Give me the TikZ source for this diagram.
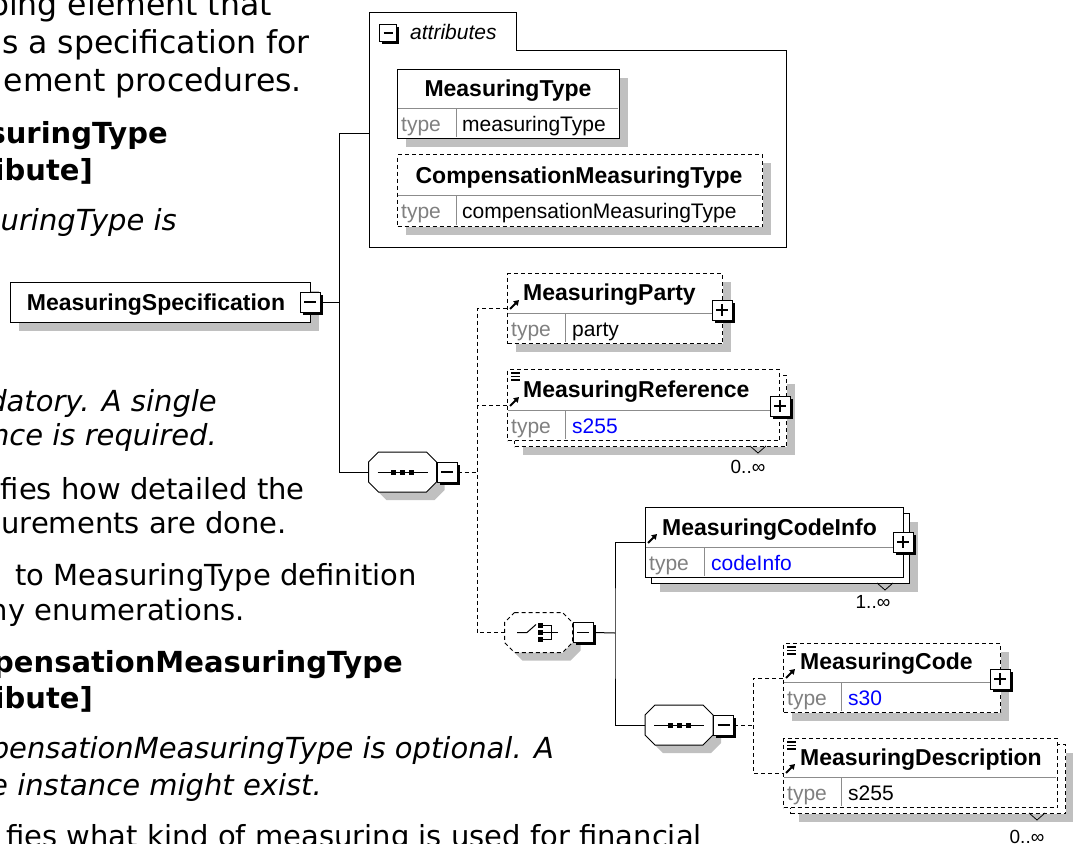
\documentclass[tikz,border=0pt]{standalone}
\usepackage{fontspec}
\setmainfont{Liberation Sans}
\newfontfamily\docfont{DejaVu Sans}[BoldFont={DejaVu Sans Bold},ItalicFont={DejaVu Sans Oblique},BoldItalicFont={DejaVu Sans Bold Oblique}]
\usetikzlibrary{shadows,arrows.meta}

\definecolor{shadowgray}{RGB}{192,192,192}
\definecolor{rulegray}{RGB}{140,140,140}
\definecolor{typegray}{RGB}{128,128,128}
\definecolor{typeblue}{RGB}{0,0,255}

\tikzset{
  elshadow/.style={drop shadow={shadow xshift=8pt, shadow yshift=-8pt, fill=shadowgray, opacity=1}},
  elbox/.style={draw=black, fill=white, line width=1pt, inner sep=0pt, anchor=north west},
  optdash/.style={dash pattern=on 4pt off 3pt},
  optbox/.style={elbox, optdash},
  grpnode/.style={inner sep=0pt, minimum width=68pt, minimum height=40pt},
  grpline/.style={draw=black, fill=white, line width=1pt},
  tog/.style={draw=black, fill=white, line width=1pt, minimum size=20pt, inner sep=0pt,
    drop shadow={shadow xshift=2.5pt, shadow yshift=-2.5pt, fill=black, opacity=1}},
  togminus/.style={tog, path picture={\draw[line width=1.2pt] ([xshift=4pt]path picture bounding box.west) -- ([xshift=-4pt]path picture bounding box.east);}},
  togplus/.style={tog, path picture={\draw[line width=1.2pt] ([xshift=4pt]path picture bounding box.west) -- ([xshift=-4pt]path picture bounding box.east)
      ([yshift=-4pt]path picture bounding box.north) -- ([yshift=4pt]path picture bounding box.south);}},
  elname/.style={font=\fontsize{23}{26}\selectfont\bfseries, inner sep=0pt},
  eltype/.style={font=\fontsize{21}{24}\selectfont, text=typegray, anchor=base west, inner sep=0pt},
  elval/.style={font=\fontsize{21}{24}\selectfont, anchor=base west, inner sep=0pt},
  occurs/.style={font=\fontsize{19}{22}\selectfont, anchor=base, inner sep=0pt},
  conn/.style={line width=1pt},
  optconn/.style={line width=1pt, optdash},
  refarrow/.style={line width=1.8pt, -{Triangle[length=5pt,width=6pt]}},
  doctext/.style={font=\docfont\fontsize{29}{35}\selectfont, anchor=base east, inner sep=0pt},
  doclead/.style={doctext, font=\docfont\fontsize{31.5}{38}\selectfont},
  docbold/.style={doctext, font=\docfont\fontsize{29}{35}\selectfont\bfseries},
  docital/.style={doctext, font=\docfont\fontsize{29}{35}\selectfont\itshape},
}

\begin{document}
\begin{tikzpicture}[x=1pt,y=-1pt]
  \useasboundingbox (0,0) rectangle (1073,843);
  \clip (0,0) rectangle (1073,843);

  %%% documentation text, cut by the left edge %%%
  \node[doclead] (doc1)  at (272,16)  {ping element that};
  \node[doclead] (doc2)  at (310,53)  {s a specification for};
  \node[doclead] (doc3)  at (302,91)  {ement procedures.};
  \node[docbold] (doc4)  at (168,143) {suringType};
  \node[docbold] (doc5)  at (93,180)  {ibute]};
  \node[docital] (doc6)  at (177,230) {uringType is};
  \node[docital] (doc7)  at (217,411) {datory. A single};
  \node[docital] (doc8)  at (217,445) {nce is required.};
  \node[doctext] (doc9)  at (305,499) {fies how detailed the};
  \node[doctext] (doc10) at (287,533) {urements are done.};
  \node[doctext] (doc11) at (417,585) {to MeasuringType definition};
  \node[doctext] (doc12) at (245,620) {ny enumerations.};
  \node[docbold] (doc13) at (403,672) {pensationMeasuringType};
  \node[docbold] (doc14) at (93,708)  {ibute]};
  \node[docital] (doc15) at (554,758) {pensationMeasuringType is optional. A};
  \node[docital] (doc16) at (322,795) {e instance might exist.};
  \node[doctext] (doc17) at (702,846) {fies what kind of measuring is used for financial};

  %%% root element %%%
  \node[elbox, elshadow, minimum width=300pt, minimum height=40pt] (spec) at (10,282) {};
  \node[elname, anchor=base] (specname) at (156,310) {MeasuringSpecification};
  \node[togminus] (specT) at (310,302) {};

  %%% attributes group %%%
  \node[anchor=north west, minimum width=417pt, minimum height=196pt, inner sep=0pt] (attr) at (369,51) {};
  \draw[line width=1pt] (369,13) -- (516,13) -- (516,51) -- (786,51) -- (786,247) -- (369,247) -- cycle;
  \node[togminus, minimum size=17pt] (attrT) at (388,33) {};
  \node[font=\fontsize{21}{24}\selectfont\itshape, anchor=base west, inner sep=0pt] (attrname) at (410,40) {attributes};

  \node[elbox, elshadow, minimum width=222pt, minimum height=69pt] (mtype) at (397,69) {};
  \draw[rulegray, line width=1pt] (398,108) -- (618,108) (456,108) -- (456,137);
  \node[elname, anchor=base] (mtypename) at (508,96) {MeasuringType};
  \node[eltype] (mtypet) at (401,131) {type};
  \node[elval] (mtypev) at (462,131) {measuringType};

  \node[optbox, elshadow, minimum width=365pt, minimum height=72pt] (ctype) at (397,154) {};
  \draw[rulegray, line width=1pt] (398,195) -- (761,195) (456,195) -- (456,225);
  \node[elname, anchor=base] (ctypename) at (579,183) {CompensationMeasuringType};
  \node[eltype] (ctypet) at (401,218) {type};
  \node[elval] (ctypev) at (462,218) {compensationMeasuringType};

  %%% model groups (octagons) %%%
  \node[grpnode] (seq1) at (402.5,472) {};
  \node[grpnode] (choice) at (538.5,632.5) {};
  \node[grpnode] (seq2) at (679,725) {};
  \foreach \s/\ls in {seq1/solid, choice/optdash, seq2/solid} {
    \fill[shadowgray] (\s.center) ++(-16,-12) -- ++(48,0) -- ++(10,10) -- ++(0,20) -- ++(-10,10)
      -- ++(-48,0) -- ++(-10,-10) -- ++(0,-20) -- cycle;
    \draw[grpline, \ls] (\s.center) ++(-24,-20) -- ++(48,0) -- ++(10,10) -- ++(0,20) -- ++(-10,10)
      -- ++(-48,0) -- ++(-10,-10) -- ++(0,-20) -- cycle;
  }
  \node[togminus, anchor=west] (seq1T) at (seq1.east) {};
  \node[togminus, anchor=west] (choiceT) at (choice.east) {};
  \node[togminus, anchor=west] (seq2T) at (seq2.east) {};

  \foreach \s in {seq1,seq2} {
    \draw[line width=1pt] ([xshift=-25pt]\s.center) -- ([xshift=25pt]\s.center);
    \foreach \dx in {-9,0,9}
      \fill ([xshift=\dx pt]\s.center) +(-2.5,-2.5) rectangle +(2.5,2.5);
  }
  \begin{scope}[shift={(choice.center)}, line width=1pt]
    \draw (-21.5,0) -- (-11.5,0) -- (-2.5,-8);
    \foreach \dy in {-7,0,7} \fill (-0.5,\dy-2.2) rectangle (4.5,\dy+2.2);
    \draw (4.5,-7) -- (12.5,-7) -- (12.5,7) -- (4.5,7) (4.5,0) -- (19.5,0);
  \end{scope}

  %%% child elements %%%
  \node[optbox, elshadow, minimum width=215pt, minimum height=70pt] (party) at (507,273) {};
  \draw[rulegray, line width=1pt] (508,313) -- (721,313) (565,313) -- (565,342);
  \node[elname, anchor=base west] (partyname) at (523,300) {MeasuringParty};
  \node[eltype] (partyt) at (511,336) {type};
  \node[elval] (partyv) at (572,336) {party};
  \node[togplus] (partyT) at (722,310) {};

  \node[optbox, elshadow, minimum width=272pt, minimum height=71pt] (mrefb) at (514,375) {};
  \node[optbox, minimum width=272pt, minimum height=71pt] (mref) at (507,369) {};
  \draw[rulegray, line width=1pt] (508,410) -- (778,410) (565,410) -- (565,439);
  \node[elname, anchor=base west] (mrefname) at (523,397) {MeasuringReference};
  \node[eltype] (mreft) at (511,433) {type};
  \node[elval, text=typeblue] (mrefv) at (572,433) {s255};
  \node[togplus] (mrefT) at (780,406) {};
  \node[occurs] (mrefocc) at (748,473) {0..∞};
  \draw[line width=0.8pt] (750,446) -- (758,453) -- (766,446);

  \node[elbox, elshadow, minimum width=258pt, minimum height=70pt] (cinfob) at (651,513) {};
  \node[elbox, minimum width=258pt, minimum height=70pt] (cinfo) at (645,507) {};
  \draw[rulegray, line width=1pt] (646,547) -- (902,547) (704,547) -- (704,576);
  \node[elname, anchor=base west] (cinfoname) at (662,535) {MeasuringCodeInfo};
  \node[eltype] (cinfot) at (649,570) {type};
  \node[elval, text=typeblue] (cinfov) at (711,570) {codeInfo};
  \node[togplus] (cinfoT) at (903,542) {};
  \node[occurs] (cinfoocc) at (873,608) {1..∞};
  \draw[line width=0.8pt] (877,583) -- (885,590) -- (893,583);

  \node[optbox, elshadow, minimum width=217pt, minimum height=69pt] (mcode) at (783,643) {};
  \draw[rulegray, line width=1pt] (784,682) -- (999,682) (841,682) -- (841,711);
  \node[elname, anchor=base west] (mcodename) at (800,669) {MeasuringCode};
  \node[eltype] (mcodet) at (787,705) {type};
  \node[elval, text=typeblue] (mcodev) at (848,705) {s30};
  \node[togplus] (mcodeT) at (1000,679) {};

  \node[optbox, elshadow, minimum width=275pt, minimum height=69pt] (mdescb) at (790,744) {};
  \node[optbox, minimum width=274pt, minimum height=69pt] (mdesc) at (783,738) {};
  \draw[rulegray, line width=1pt] (784,777) -- (1056,777) (841,777) -- (841,806);
  \node[elname, anchor=base west] (mdescname) at (800,765) {MeasuringDescription};
  \node[eltype] (mdesct) at (787,800) {type};
  \node[elval] (mdescv) at (848,800) {s255};
  \node[occurs] (mdescocc) at (1027,843) {0..∞};
  \draw[line width=0.8pt] (1029,813) -- (1037,820) -- (1045,813);

  %%% element reference arrows and content marks %%%
  \foreach \ax/\ay in {507/313, 507/410, 645/547, 783/682, 783/777}
    \draw[refarrow] (\ax+3,\ay-4) -- (\ax+12,\ay-13);
  \foreach \ix/\iy in {507/369, 783/643, 783/738}
    \foreach \k in {0,1,2}
      \draw[line width=1.2pt] (\ix+4,\iy+4+3.5*\k) -- (\ix+13,\iy+4+3.5*\k);

  %%% connectors %%%
  \coordinate (trk1) at (339,133);
  \coordinate (trk2) at (339,472);
  \draw[conn] (specT.east) -- (specT.east -| trk1);
  \draw[conn] (attr.west |- trk1) -- (trk1) -- (trk2) -- (seq1.west);

  \coordinate (br1) at (477,472);
  \draw[optconn] (seq1T.east) -- (br1);
  \draw[optconn] (party.west) -| (br1) |- (choice.west);
  \draw[optconn] (mref.west) -- (mref.west -| br1);

  \coordinate (br2) at (615,633);
  \draw[conn] (choiceT.east) -- (br2);
  \draw[conn] (cinfo.west) -| (br2) |- (seq2.west);

  \coordinate (br3) at (753,725);
  \draw[optconn] (seq2T.east) -- (br3);
  \draw[optconn] (mcode.west) -| (br3) |- (mdesc.west);
\end{tikzpicture}
\end{document}
